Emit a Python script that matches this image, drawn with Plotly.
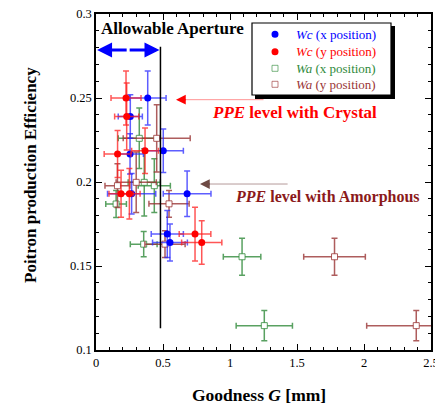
import plotly.graph_objects as go

# Wc (x position) - blue filled circles
wcx_x = [0.386, 0.256, 0.254, 0.502, 0.266, 0.680, 0.532, 0.552]
wcx_y = [0.250, 0.239, 0.2167, 0.2186, 0.193, 0.193, 0.169, 0.164]
wcx_xerr = [0.137, 0.09, 0.10, 0.15, 0.18, 0.178, 0.12, 0.13]
wcx_yerr = [0.016, 0.013, 0.012, 0.013, 0.012, 0.0135, 0.014, 0.011]

# Wc (y position) - red filled circles
wcy_x = [0.224, 0.229, 0.366, 0.161, 0.187, 0.249, 0.739, 0.789]
wcy_y = [0.250, 0.239, 0.2186, 0.2167, 0.193, 0.193, 0.169, 0.164]
wcy_xerr = [0.112, 0.09, 0.10, 0.10, 0.09, 0.08, 0.118, 0.15]
wcy_yerr = [0.016, 0.02, 0.0135, 0.014, 0.014, 0.015, 0.016, 0.013]

# Wa (x position) - green open squares
wax_x = [0.323, 0.360, 0.435, 0.150, 0.356, 1.090, 1.256]
wax_y = [0.226, 0.1998, 0.1978, 0.1869, 0.163, 0.1555, 0.1145]
wax_xerr = [0.157, 0.12, 0.12, 0.077, 0.10, 0.14, 0.21]
wax_yerr = [0.018, 0.02, 0.016, 0.008, 0.0075, 0.011, 0.009]

# Wa (y position) - brown open squares
way_x = [0.453, 0.160, 0.300, 0.545, 0.515, 1.780, 2.390]
way_y = [0.226, 0.1978, 0.1998, 0.187, 0.163, 0.1555, 0.1145]
way_xerr = [0.25, 0.093, 0.15, 0.15, 0.15, 0.23, 0.37]
way_yerr = [0.02, 0.013, 0.018, 0.008, 0.008, 0.011, 0.009]

# reference levels / aperture
aperture = 0.481
crystal_level = 0.249
amorphous_level = 0.1988

x_ticks = [0, 0.5, 1, 1.5, 2, 2.5]
x_labels = ["0", "0.5", "1", "1.5", "2", "2.5"]
y_ticks = [0.1, 0.15, 0.2, 0.25, 0.3]
y_labels = ["0.1", "0.15", "0.2", "0.25", "0.3"]

FONT = "Liberation Serif"
BLUE = "#0000ff"
RED = "#ff0000"
GREEN = "#2f8a3a"
BROWN = "#9a3535"

BLUE_E = "rgba(40,40,255,0.75)"
RED_E = "rgba(255,30,30,0.75)"
GREEN_E = "rgba(47,138,58,0.8)"
BROWN_E = "rgba(154,53,53,0.8)"

# page-pixel -> paper coordinate helpers (plot area spans px 96..431, py 14..350 on the page)
def PX(px):
    return (px - 96) / 335.0


def PY(py):
    return (350 - py) / 336.0


fig = go.Figure()


def add_series(x, y, xe, ye, name, color, err_rgba, symbol, filled):
    if filled:
        marker = dict(symbol=symbol, size=7, color=color, line=dict(width=0))
    else:
        marker = dict(symbol=symbol, size=6, color="white",
                      line=dict(width=1, color=err_rgba))
    fig.add_trace(go.Scatter(
        x=x, y=y, mode="markers", name=name, showlegend=False,
        marker=marker,
        error_x=dict(type="data", array=xe, visible=True, color=err_rgba, thickness=1.5, width=3),
        error_y=dict(type="data", array=ye, visible=True, color=err_rgba, thickness=1.5, width=3),
    ))


add_series(wax_x, wax_y, wax_xerr, wax_yerr, "Wa (x position)", GREEN, GREEN_E, "square", False)
add_series(way_x, way_y, way_xerr, way_yerr, "Wa (y position)", BROWN, BROWN_E, "square", False)
add_series(wcx_x, wcx_y, wcx_xerr, wcx_yerr, "Wc (x position)", BLUE, BLUE_E, "circle", True)
add_series(wcy_x, wcy_y, wcy_xerr, wcy_yerr, "Wc (y position)", RED, RED_E, "circle", True)

shapes = [
    # aperture vertical line
    dict(type="line", xref="x", yref="y", x0=aperture, x1=aperture, y0=0.2805, y1=0.113,
         line=dict(color="black", width=1.5)),
    # crystal arrow line (pale)
    dict(type="line", xref="x", yref="y", x0=0.64, x1=1.25, y0=crystal_level, y1=crystal_level,
         line=dict(color="rgba(255,120,120,0.8)", width=1)),
    # amorphous arrow line (pale)
    dict(type="line", xref="x", yref="y", x0=0.82, x1=1.43, y0=amorphous_level, y1=amorphous_level,
         line=dict(color="rgba(150,110,110,0.7)", width=1)),
    # legend shadow + box
    dict(type="rect", xref="paper", yref="paper", x0=PX(255), x1=PX(395), y0=PY(99), y1=PY(26),
         fillcolor="black", line=dict(width=0), layer="above"),
    dict(type="rect", xref="paper", yref="paper", x0=PX(252), x1=PX(391), y0=PY(95), y1=PY(23),
         fillcolor="white", line=dict(color="black", width=1.2), layer="above"),
]

legend_items = [
    ("Wc", " (x position)", BLUE, "circle", 34.3),
    ("Wc", " (y position)", RED, "circle", 51.7),
    ("Wa", " (x position)", GREEN, "square", 68.3),
    ("Wa", " (y position)", BROWN, "square", 84.3),
]

annotations = []
for short, rest, col, sym, py in legend_items:
    if sym == "circle":
        shapes.append(dict(type="circle", xref="paper", yref="paper",
                           x0=PX(271.5), x1=PX(278.5), y0=PY(py + 3.5), y1=PY(py - 3.5),
                           fillcolor=col, line=dict(width=0), layer="above"))
    else:
        faded = GREEN_E if col == GREEN else BROWN_E
        shapes.append(dict(type="rect", xref="paper", yref="paper",
                           x0=PX(272), x1=PX(278), y0=PY(py + 3), y1=PY(py - 3),
                           fillcolor="white", line=dict(width=0.8, color=faded), layer="above"))
    annotations.append(dict(x=PX(294), y=PY(py), xref="paper", yref="paper",
                            text=f"<i>{short}</i>{rest}", showarrow=False,
                            xanchor="left", yanchor="middle",
                            font=dict(family=FONT, size=13, color=col)))

annotations += [
    dict(x=0.02, y=0.2915, xref="x", yref="y", text="<b>Allowable Aperture</b>",
         showarrow=False, xanchor="left", yanchor="middle",
         font=dict(family=FONT, size=17, color="black")),
    # blue double arrow
    dict(x=0.008, y=0.2785, ax=0.24, ay=0.2785, xref="x", yref="y", axref="x", ayref="y",
         text="", showarrow=True, arrowhead=2, arrowsize=1, arrowwidth=3, arrowcolor=BLUE),
    dict(x=0.474, y=0.2785, ax=0.24, ay=0.2785, xref="x", yref="y", axref="x", ayref="y",
         text="", showarrow=True, arrowhead=2, arrowsize=1, arrowwidth=3, arrowcolor=BLUE),
    # crystal arrowhead
    dict(x=0.597, y=crystal_level, ax=0.68, ay=crystal_level, xref="x", yref="y",
         axref="x", ayref="y", text="", showarrow=True, arrowhead=2, arrowsize=1.3,
         arrowwidth=1.5, arrowcolor=RED),
    dict(x=PX(210), y=PY(113), xref="paper", yref="paper",
         text="<b><i>PPE</i> level with Crystal</b>", showarrow=False,
         xanchor="left", yanchor="middle", font=dict(family=FONT, size=17, color=RED)),
    # amorphous arrowhead
    dict(x=0.776, y=amorphous_level, ax=0.86, ay=amorphous_level, xref="x", yref="y",
         axref="x", ayref="y", text="", showarrow=True, arrowhead=2, arrowsize=1.3,
         arrowwidth=1.5, arrowcolor="#6e4a44"),
    dict(x=PX(233), y=PY(197), xref="paper", yref="paper",
         text="<b><i>PPE</i> level with Amorphous</b>", showarrow=False,
         xanchor="left", yanchor="middle", font=dict(family=FONT, size=16, color="#8b1a1a")),
    # axis titles
    dict(x=PX(259), y=PY(395), xref="paper", yref="paper",
         text="<b>Goodness <i>G</i> [mm]</b>", showarrow=False,
         xanchor="center", yanchor="middle", font=dict(family=FONT, size=17.5, color="black")),
    dict(x=PX(30), y=PY(175), xref="paper", yref="paper", textangle=-90,
         text="<b>Poitron production Efficiency</b>", showarrow=False,
         xanchor="center", yanchor="middle", font=dict(family=FONT, size=17, color="black")),
]

fig.update_layout(
    width=435, height=400,
    margin=dict(l=88, r=12, t=6, b=58),
    plot_bgcolor="white", paper_bgcolor="white",
    font=dict(family=FONT, size=12, color="black"),
    shapes=shapes, annotations=annotations,
    showlegend=False,
)

fig.update_xaxes(
    range=[0, 2.5], tickvals=x_ticks, ticktext=x_labels,
    ticks="inside", ticklen=6, tickwidth=1, tickcolor="black", mirror="ticks",
    showline=True, linecolor="black", linewidth=1.5, showgrid=False, zeroline=False,
    minor=dict(dtick=0.1, ticks="inside", ticklen=3, tickcolor="black", tickwidth=1),
    tickfont=dict(family=FONT, size=12.5), automargin=False, ticklabeloverflow="allow",
)
fig.update_yaxes(
    range=[0.1, 0.300001], tickvals=y_ticks, ticktext=y_labels,
    ticks="inside", ticklen=6, tickwidth=1, tickcolor="black", mirror="ticks",
    showline=True, linecolor="black", linewidth=1.5, showgrid=False, zeroline=False,
    minor=dict(dtick=0.01, ticks="inside", ticklen=3, tickcolor="black", tickwidth=1),
    tickfont=dict(family=FONT, size=12.5), automargin=False, ticklabeloverflow="allow",
)

fig.write_html("out.html")
